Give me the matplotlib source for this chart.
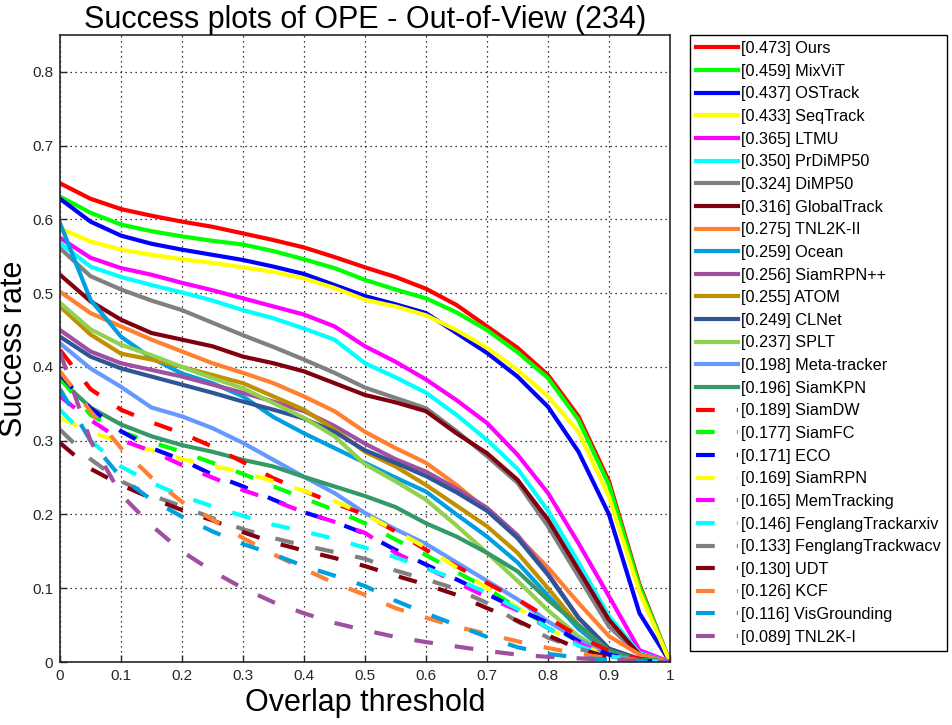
import numpy as np
import matplotlib
matplotlib.use("Agg")
import matplotlib.pyplot as plt

plt.rcParams['font.family'] = ['Liberation Sans', 'DejaVu Sans']

# overlap thresholds 0:0.05:1
thresholds = np.linspace(0, 1, 21)

# success rates
ours        = [0.649, 0.628, 0.614, 0.605, 0.597, 0.590, 0.581, 0.572, 0.562, 0.549, 0.535, 0.522, 0.506, 0.484, 0.455, 0.426, 0.389, 0.333, 0.245, 0.105, 0.0]
mixvit      = [0.631, 0.609, 0.593, 0.584, 0.577, 0.571, 0.566, 0.557, 0.546, 0.534, 0.518, 0.505, 0.493, 0.474, 0.450, 0.420, 0.385, 0.328, 0.240, 0.102, 0.0]
ostrack     = [0.628, 0.597, 0.578, 0.567, 0.559, 0.552, 0.545, 0.536, 0.526, 0.511, 0.496, 0.485, 0.473, 0.446, 0.419, 0.387, 0.346, 0.285, 0.200, 0.066, 0.0]
seqtrack    = [0.588, 0.570, 0.559, 0.552, 0.546, 0.541, 0.535, 0.529, 0.520, 0.507, 0.491, 0.482, 0.470, 0.450, 0.426, 0.396, 0.360, 0.312, 0.224, 0.095, 0.0]
ltmu        = [0.575, 0.548, 0.534, 0.525, 0.514, 0.504, 0.493, 0.482, 0.471, 0.455, 0.428, 0.407, 0.383, 0.355, 0.324, 0.281, 0.229, 0.161, 0.089, 0.016, 0.0]
prdimp50    = [0.568, 0.536, 0.522, 0.511, 0.501, 0.490, 0.477, 0.466, 0.452, 0.437, 0.405, 0.386, 0.365, 0.335, 0.301, 0.262, 0.205, 0.135, 0.062, 0.012, 0.0]
dimp50      = [0.561, 0.523, 0.505, 0.490, 0.477, 0.460, 0.443, 0.427, 0.410, 0.392, 0.372, 0.358, 0.344, 0.313, 0.279, 0.243, 0.184, 0.116, 0.048, 0.010, 0.0]
globaltrack = [0.525, 0.489, 0.464, 0.446, 0.437, 0.428, 0.414, 0.405, 0.394, 0.378, 0.362, 0.352, 0.340, 0.310, 0.283, 0.247, 0.193, 0.125, 0.057, 0.010, 0.0]
tnl2k_ii    = [0.502, 0.473, 0.455, 0.437, 0.421, 0.405, 0.392, 0.378, 0.360, 0.340, 0.312, 0.290, 0.270, 0.240, 0.206, 0.170, 0.128, 0.080, 0.035, 0.010, 0.0]
ocean       = [0.595, 0.491, 0.441, 0.412, 0.391, 0.378, 0.360, 0.332, 0.310, 0.290, 0.270, 0.250, 0.231, 0.200, 0.170, 0.135, 0.090, 0.045, 0.012, 0.003, 0.0]
siamrpnpp   = [0.450, 0.421, 0.405, 0.396, 0.387, 0.376, 0.365, 0.353, 0.340, 0.320, 0.296, 0.275, 0.258, 0.235, 0.209, 0.172, 0.120, 0.060, 0.018, 0.004, 0.0]
atom        = [0.482, 0.444, 0.418, 0.410, 0.400, 0.389, 0.378, 0.360, 0.342, 0.315, 0.285, 0.265, 0.240, 0.212, 0.184, 0.148, 0.100, 0.050, 0.015, 0.003, 0.0]
clnet       = [0.441, 0.414, 0.398, 0.387, 0.376, 0.365, 0.353, 0.342, 0.330, 0.312, 0.287, 0.270, 0.252, 0.230, 0.205, 0.168, 0.118, 0.060, 0.018, 0.004, 0.0]
splt        = [0.487, 0.451, 0.430, 0.416, 0.400, 0.385, 0.371, 0.351, 0.331, 0.306, 0.268, 0.245, 0.220, 0.185, 0.148, 0.110, 0.070, 0.035, 0.010, 0.002, 0.0]
metatracker = [0.432, 0.398, 0.373, 0.345, 0.333, 0.317, 0.297, 0.274, 0.251, 0.229, 0.202, 0.180, 0.160, 0.135, 0.110, 0.085, 0.055, 0.030, 0.010, 0.002, 0.0]
siamkpn     = [0.383, 0.345, 0.322, 0.306, 0.294, 0.285, 0.274, 0.265, 0.251, 0.238, 0.225, 0.210, 0.188, 0.170, 0.148, 0.123, 0.084, 0.050, 0.015, 0.003, 0.0]
siamdw      = [0.423, 0.370, 0.342, 0.325, 0.310, 0.292, 0.271, 0.249, 0.232, 0.215, 0.200, 0.177, 0.152, 0.130, 0.107, 0.085, 0.060, 0.035, 0.015, 0.004, 0.0]
siamfc      = [0.385, 0.335, 0.312, 0.298, 0.285, 0.270, 0.255, 0.238, 0.222, 0.206, 0.188, 0.166, 0.145, 0.122, 0.100, 0.073, 0.050, 0.028, 0.010, 0.003, 0.0]
eco         = [0.390, 0.344, 0.313, 0.290, 0.274, 0.254, 0.238, 0.220, 0.203, 0.190, 0.174, 0.152, 0.132, 0.112, 0.092, 0.072, 0.053, 0.028, 0.010, 0.002, 0.0]
siamrpn     = [0.331, 0.312, 0.298, 0.287, 0.275, 0.266, 0.257, 0.245, 0.232, 0.218, 0.200, 0.178, 0.155, 0.128, 0.100, 0.074, 0.046, 0.024, 0.008, 0.002, 0.0]
memtracking = [0.360, 0.328, 0.301, 0.286, 0.267, 0.250, 0.233, 0.219, 0.203, 0.190, 0.175, 0.148, 0.128, 0.108, 0.088, 0.070, 0.046, 0.025, 0.008, 0.002, 0.0]
fl_arxiv    = [0.342, 0.300, 0.265, 0.243, 0.225, 0.211, 0.198, 0.186, 0.177, 0.167, 0.155, 0.142, 0.127, 0.112, 0.094, 0.072, 0.046, 0.022, 0.008, 0.002, 0.0]
fl_wacv     = [0.315, 0.275, 0.245, 0.226, 0.211, 0.195, 0.180, 0.168, 0.158, 0.149, 0.140, 0.124, 0.112, 0.099, 0.080, 0.055, 0.033, 0.018, 0.007, 0.002, 0.0]
udt         = [0.297, 0.262, 0.240, 0.222, 0.206, 0.192, 0.176, 0.162, 0.151, 0.141, 0.130, 0.117, 0.105, 0.091, 0.073, 0.056, 0.036, 0.018, 0.006, 0.001, 0.0]
kcf         = [0.394, 0.340, 0.290, 0.250, 0.217, 0.193, 0.168, 0.146, 0.126, 0.107, 0.091, 0.073, 0.060, 0.048, 0.038, 0.028, 0.019, 0.011, 0.005, 0.001, 0.0]
visgrounding = [0.370, 0.300, 0.250, 0.220, 0.197, 0.177, 0.160, 0.146, 0.130, 0.117, 0.103, 0.083, 0.066, 0.050, 0.034, 0.020, 0.011, 0.006, 0.003, 0.001, 0.0]
tnl2k_i     = [0.420, 0.300, 0.227, 0.185, 0.150, 0.123, 0.100, 0.081, 0.066, 0.053, 0.043, 0.034, 0.027, 0.021, 0.015, 0.010, 0.007, 0.005, 0.003, 0.001, 0.0]

curves = [ours, mixvit, ostrack, seqtrack, ltmu, prdimp50, dimp50, globaltrack,
          tnl2k_ii, ocean, siamrpnpp, atom, clnet, splt, metatracker, siamkpn,
          siamdw, siamfc, eco, siamrpn, memtracking, fl_arxiv, fl_wacv, udt,
          kcf, visgrounding, tnl2k_i]

names = ['Ours', 'MixViT', 'OSTrack', 'SeqTrack', 'LTMU', 'PrDiMP50', 'DiMP50',
         'GlobalTrack', 'TNL2K-II', 'Ocean', 'SiamRPN++', 'ATOM', 'CLNet', 'SPLT',
         'Meta-tracker', 'SiamKPN', 'SiamDW', 'SiamFC', 'ECO', 'SiamRPN',
         'MemTracking', 'FenglangTrackarxiv', 'FenglangTrackwacv', 'UDT', 'KCF',
         'VisGrounding', 'TNL2K-I']

auc = ['0.473', '0.459', '0.437', '0.433', '0.365', '0.350', '0.324', '0.316',
       '0.275', '0.259', '0.256', '0.255', '0.249', '0.237', '0.198', '0.196',
       '0.189', '0.177', '0.171', '0.169', '0.165', '0.146', '0.133', '0.130',
       '0.126', '0.116', '0.089']

base_colors = ['#ff0000', '#00ff00', '#0000ff', '#ffff00', '#ff00ff', '#00ffff',
               '#808080', '#800010', '#ff8030', '#00a0e0', '#a050a0', '#c09000',
               '#2f5597', '#92d050', '#6699ff', '#339966']
# dashed ones reuse the palette (ocean blue / purple for the last two)
dash_colors = ['#ff0000', '#00ff00', '#0000ff', '#ffff00', '#ff00ff', '#00ffff',
               '#808080', '#800010', '#ff8030', '#00a0e0', '#a050a0']
colors = base_colors + dash_colors
n_solid = len(base_colors)

fig = plt.figure(figsize=(9.52, 7.25), dpi=100)
ax = fig.add_axes([60 / 952, 63 / 725, 610 / 952, 627 / 725])

for i, (y, name) in enumerate(zip(curves, names)):
    label = '[%s] %s' % (auc[i], name)
    if i < n_solid:
        ax.plot(thresholds, y, color=colors[i], lw=3, label=label,
                solid_joinstyle='miter')
    else:
        ax.plot(thresholds, y, color=colors[i], lw=3, label=label,
                linestyle=(0, (4.5, 5.3)), dash_capstyle='butt')

ax.set_xlim(0, 1)
ax.set_ylim(0, 0.85)
ax.set_xticks(np.arange(0, 1.01, 0.1))
ax.set_xticklabels(['0', '0.1', '0.2', '0.3', '0.4', '0.5', '0.6', '0.7', '0.8', '0.9', '1'])
ax.set_yticks(np.arange(0, 0.81, 0.1))
ax.set_yticklabels(['0', '0.1', '0.2', '0.3', '0.4', '0.5', '0.6', '0.7', '0.8'])
ax.tick_params(direction='in', labelsize=11, length=5, width=1, colors='#262626', pad=5)
ax.grid(True, linestyle=(0, (1, 3)), color='black', linewidth=0.9)
for s in ax.spines.values():
    s.set_linewidth(1.2)
    s.set_color('#262626')

ax.set_title('Success plots of OPE - Out-of-View (234)', fontsize=22, pad=5)
ax.set_xlabel('Overlap threshold', fontsize=22, labelpad=4)
ax.set_ylabel('Success rate', fontsize=22, labelpad=2)

leg = ax.legend(loc='upper left', bbox_to_anchor=(690 / 952, 1 - 35 / 725),
                bbox_transform=fig.transFigure, borderaxespad=0,
                fontsize=11.7, handlelength=2.55, handletextpad=0.2,
                labelspacing=0.47, borderpad=0.38, fancybox=False,
                framealpha=1, edgecolor='black')
leg.get_frame().set_linewidth(1.0)

fig.savefig('out.png', dpi=100)
